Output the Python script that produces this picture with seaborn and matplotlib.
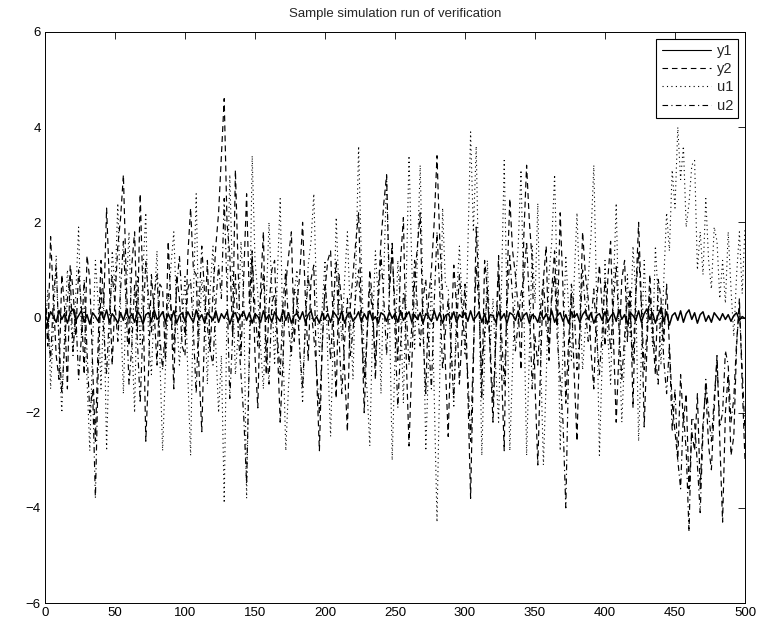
import numpy as np
import pandas as pd
import matplotlib
matplotlib.use("Agg")
import matplotlib.pyplot as plt
import seaborn as sns

title = "Sample simulation run of verification"
series_names = ["y1", "y2", "u1", "u2"]
x_ticks = [0, 50, 100, 150, 200, 250, 300, 350, 400, 450, 500]
y_ticks = [-6, -4, -2, 0, 2, 4, 6]

y1 = [0.05, -0.08, 0.12, 0.02, -0.1, 0.15, -0.04, 0.08, -0.12, 0.1,
      0.18, -0.06, 0.04, 0.14, -0.1, 0.06, -0.14, 0.1, 0.02, -0.08,
      0.12, -0.04, 0.16, -0.1, 0.08, 0.0, -0.12, 0.1, -0.06, 0.14,
      -0.02, 0.08, -0.1, 0.12, 0.04, -0.14, 0.06, 0.1, -0.08, 0.16,
      -0.04, 0.02, 0.12, -0.1, 0.08, -0.06, 0.14, -0.12, 0.04, 0.1,
      -0.08, 0.12, 0.0, -0.1, 0.16, -0.04, 0.06, -0.12, 0.1, 0.02,
      -0.06, 0.14, -0.1, 0.08, -0.02, 0.12, -0.14, 0.06, 0.1, -0.08,
      0.04, 0.12, -0.06, 0.1, -0.12, 0.08, 0.02, -0.1, 0.14, -0.04,
      0.06, -0.1, 0.12, 0.0, -0.08, 0.16, -0.06, 0.1, -0.12, 0.04,
      0.08, -0.04, 0.12, -0.1, 0.06, 0.14, -0.08, 0.02, -0.12, 0.1,
      -0.04, 0.08, -0.1, 0.12, 0.04, -0.06, 0.14, -0.12, 0.06, 0.1,
      -0.08, 0.0, 0.12, -0.1, 0.08, -0.04, 0.14, -0.06, 0.02, -0.12,
      0.1, 0.06, -0.08, 0.12, -0.02, 0.08, -0.1, 0.14, -0.06, 0.04,
      0.12, -0.1, 0.06, -0.04, 0.1, -0.12, 0.08, 0.02, -0.08, 0.14,
      -0.06, 0.1, -0.12, 0.04, 0.08, -0.04, 0.12, -0.1, 0.06, 0.0,
      0.1, -0.08, 0.14, -0.06, 0.02, 0.12, -0.1, 0.08, -0.14, 0.06,
      0.04, -0.1, 0.12, -0.02, 0.08, -0.12, 0.1, 0.06, -0.06, 0.14,
      -0.08, 0.04, 0.1, -0.12, 0.06, 0.02, -0.1, 0.12, -0.04, 0.08,
      -0.06, 0.14, -0.1, 0.04, 0.1, -0.08, 0.06, -0.12, 0.12, 0.0,
      0.08, -0.1, 0.06, 0.14, -0.04, 0.1, -0.12, 0.04, 0.08, -0.06,
      0.12, -0.1, 0.02, 0.1, -0.08, 0.16, -0.04, 0.06, -0.14, 0.1,
      0.04, -0.06, 0.14, -0.1, 0.08, 0.18, -0.04, 0.1, -0.12, 0.06,
      0.2, -0.08, 0.12, -0.16, 0.04, 0.1, -0.06, 0.14, -0.1, 0.08,
      0.16, -0.04, 0.1, -0.12, 0.06, 0.12, -0.08, 0.04, -0.1, 0.1,
      0.02, -0.06, 0.08, -0.04, 0.06, -0.08, 0.04, 0.1, -0.06, 0.02,
      -0.02]

y2 = [0.3, -0.6, 1.7, 0.4, -0.8, -1.3, 0.9, 0.2, -1.5, 1.1, 0.6, -0.4,
      1.0, 0.2, -1.2, 1.3, 0.8, -1.0, -2.6, -0.5, 1.2, 0.3,
      2.3, 0.7, -1.0, 0.4, 1.5, 2.1, 3.0, 0.8, -0.6, 1.1,
      1.8, -0.3, 2.6, 0.5, -2.6, -1.1, 0.9, 0.1, -1.0, 0.7,
      0.6, -0.9, 1.6, 0.2, -1.5, 0.9, 0.4, -0.6, -0.8, 1.3,
      2.3, 1.0, 0.9, -1.1, -2.4, -0.2, 1.2, -0.7, 0.5, 1.5,
      2.2, 3.4, 4.6, 2.0, 1.3, -0.4, 3.1, 1.0, -0.8, 0.9,
      2.6, 0.3, 1.4, -0.8, -1.9, 0.6, 1.8, -1.2, 0.2, 1.0,
      1.2, -0.6, -2.2, -0.9, 0.7, 1.3, 1.8, -0.5, 0.3, 0.9,
      2.0, 0.4, -0.9, 0.8, 1.1, -1.2, -2.8, -0.6, 0.6, 1.2,
      1.4, -0.2, -1.7, 0.9, 0.3, -1.1, -2.4, 0.2, 0.9, 1.6,
      2.2, 0.1, -2.0, -0.4, 1.0, 0.3, -1.3, 0.5, 1.6, 2.4,
      3.0, 0.6, 1.4, 0.2, -0.9, 1.2, 2.1, -0.8, -2.7, -1.0,
      0.8, 1.5, 2.2, -0.3, -1.6, 0.4, 1.0, 2.0, 3.4, 1.6,
      0.5, -1.0, -2.5, -0.4, 1.1, 0.2, -1.4, -0.3, 0.7, -1.5,
      -3.8, -0.9, 1.9, 0.5, -1.7, 1.2, 0.6, -0.8, -2.2, -0.4,
      1.3, -1.0, -2.8, 0.7, 2.5, 1.4, 0.9, 0.2, -1.1, 1.7,
      3.2, 2.0, 1.2, -1.4, -3.1, -1.0, 0.8, 1.5, -0.9, 0.6,
      1.4, -0.2, 2.2, 0.6, -1.8, -0.5, 0.5, -1.2, -2.6, -0.3,
      1.8, 0.9, 0.4, -0.7, -1.5, 0.3, 1.1, 0.2, -0.6, 0.8,
      1.6, -0.4, -2.2, -0.7, 0.8, 1.2, -0.5, 0.6, -1.9, 0.5,
      2.0, 0.3, -2.3, -0.6, 0.9, -0.3, -1.2, 0.8, 0.4, -0.5,
      0.7, -0.6, -1.8, -2.4, -3.0, -1.2, -2.2, -1.6, -3.6, -2.4,
      -2.8, -1.6, -3.6, -2.2, -1.5, -2.7, -3.2, -1.9, -0.8, -2.6,
      -4.3, -2.0, -1.2, -2.9, -2.5, -0.6, 0.4, -1.4, -3.0]

u1 = [-0.5, 0.6, -1.5, -0.2, 1.3, -0.7, -2.0, -0.3, 1.0, 0.2, -0.8, 0.5,
      1.9, -0.4, 0.2, -1.3, -2.8, -0.6, 1.2, 0.3, -1.5, 0.4,
      -2.8, -0.5, 1.4, 0.6, 2.4, 0.2, -1.6, 0.5, 1.8, -0.4,
      -2.0, 0.9, -0.6, 1.0, 2.2, -0.5, -1.2, 0.3, 1.4, -0.8,
      -2.8, -1.1, 0.2, 1.1, 1.8, 0.1, -1.0, -0.2, 0.9, -1.2,
      -2.9, 0.4, 2.6, -0.5, 0.8, 0.2, -1.4, 0.6, 1.5, -0.6,
      -2.0, -0.8, -3.9, 0.2, 3.0, 0.7, -1.2, -0.3, 1.6, 0.4,
      -3.8, -0.4, 3.4, 1.2, 0.5, -0.6, -1.5, 0.3, 2.0, 0.6,
      -1.0, 0.9, 2.5, -0.6, -2.8, -1.4, -0.4, 0.5, 1.0, -0.7,
      -1.8, -0.1, 1.1, 1.6, 2.6, 0.4, -0.8, 0.2, 1.2, -0.9,
      -2.5, -0.3, 2.1, 0.5, -0.5, 0.8, 1.8, 0.1, -1.3, 1.0,
      3.6, 1.2, -0.9, -1.5, -2.7, -0.2, 1.4, 0.4, -1.6, 0.9,
      3.0, 0.2, -3.0, -0.8, 1.2, 0.1, -1.8, 0.7, 3.4, 1.1,
      -0.7, 1.3, 3.2, 0.4, -2.8, -0.9, 0.8, -1.6, -4.3, -1.2,
      2.3, 0.7, 0.6, -0.5, -1.9, 0.4, 1.5, 0.3, -0.8, 1.4,
      3.9, 1.8, 3.6, 0.5, -2.9, -0.8, 1.2, -0.6, 0.4, -1.1,
      -2.2, 0.6, 3.3, 0.2, -2.8, -1.0, 0.7, 1.5, 3.1, 0.3,
      -2.9, -0.7, 1.5, 0.3, 2.4, -0.8, -3.1, -1.3, 0.9, 1.6,
      3.0, 0.5, -2.8, -0.6, 1.3, 0.2, -0.9, 0.8, 2.2, 0.4,
      -1.1, -0.2, 0.8, 1.7, 3.2, 0.4, -2.9, -0.9, 1.2, -0.4,
      -1.4, 0.6, 2.4, -0.3, -2.2, -0.8, 0.9, -0.4, 1.5, 0.5,
      -2.6, -0.7, 1.2, -0.2, 0.3, -0.6, 1.5, 0.4, -1.0, 0.8,
      2.2, 1.4, 3.1, 2.3, 4.0, 2.9, 3.6, 1.9, 2.4, 3.2,
      3.3, 1.0, 1.8, 0.9, 2.5, 1.2, 0.6, 1.9, 1.6, 0.4,
      1.2, 0.3, 1.8, 0.6, -0.4, 0.9, 1.8, 0.5, 1.9]

u2 = [0.5, -0.2, -0.9, 0.4, 1.1, -0.5, -1.6, -0.6, 0.4, 0.9, -0.7, 0.1,
      -1.3, -0.4, 0.8, -0.7, -2.0, -1.5, -3.8, -1.1, 0.6, -0.3,
      -1.2, 0.1, 0.9, 0.3, -0.5, 0.6, 1.6, 0.2, -1.4, -0.6,
      0.7, -0.5, -1.8, -0.2, 1.2, 0.4, -0.3, 0.5, 0.9, -0.4,
      -1.1, -0.2, 0.5, 0.2, -0.7, 0.6, 1.3, 0.3, -0.4, 0.6,
      0.8, -0.3, -1.6, 0.2, 1.5, 0.5, -0.2, -0.7, -1.0, 0.3,
      1.1, 0.4, 2.5, 0.6, -1.7, -0.4, 0.9, -0.3, -1.2, -2.1,
      -3.5, -0.8, 1.3, 0.2, -0.6, 0.4, 0.9, -0.5, -1.4, 0.3,
      0.5, -0.4, -1.2, 0.3, 1.0, -0.2, -0.8, 0.6, 0.4, -0.7,
      -1.5, -0.1, 0.9, 0.2, -0.4, -1.1, -2.0, -0.6, 0.7, 0.1,
      -0.9, 0.3, 1.2, -0.4, -1.6, -0.5, 0.4, -0.8, -0.3, 0.5,
      1.0, -0.2, -1.3, -0.4, 0.6, 0.1, -0.9, 0.3, 1.3, 0.4,
      -0.8, 0.5, 1.6, -0.3, -1.9, -0.6, 0.5, 0.2, -1.0, -0.2,
      1.2, 0.2, -0.6, 0.4, 0.8, -0.5, -1.5, 0.3, 1.8, 0.5,
      -1.1, -0.3, 0.4, -0.6, -1.7, -0.2, 0.9, 0.1, -0.5, -1.2,
      -2.6, -0.7, 1.1, 0.2, -1.2, -0.3, 0.6, -0.6, -1.8, -0.5,
      0.9, -0.3, -1.4, 0.2, 1.3, 0.4, -0.7, -0.1, 0.5, 0.8,
      1.6, 0.3, -1.5, -0.4, -1.0, 0.2, 0.8, -0.2, -0.6, 0.4,
      0.9, -0.5, -1.3, -2.2, -4.0, -1.0, 0.7, 0.2, -1.1, -0.3,
      1.0, 0.2, -0.5, -0.1, 0.6, -0.4, -1.2, -0.3, 0.8, 0.1,
      -0.7, 0.3, 1.1, -0.2, -1.3, -0.4, 0.4, 0.1, -0.9, 0.5,
      1.4, 0.2, -1.1, -0.3, 0.5, -0.2, -0.8, -1.4, 0.3, -0.9,
      -1.6, -0.6, -2.4, -1.5, -3.0, -3.6, -2.0, -2.8, -4.5, -2.1,
      -2.2, -3.1, -4.1, -2.4, -1.3, -2.0, -2.6, -1.7, -0.9, -2.3,
      -2.0, -0.7, -1.0, -2.2, -1.7, -0.5, 0.2, -1.1, -2.4]

frames = []
for name, vals in zip(series_names, [y1, y2, u1, u2]):
    n = len(vals)
    frames.append(pd.DataFrame({"t": np.linspace(0, 500, n), "value": vals, "series": name}))
df = pd.concat(frames, ignore_index=True)

sns.set_theme(style="white")
plt.rcParams["font.family"] = ["Liberation Sans", "DejaVu Sans"]

fig = plt.figure(figsize=(7.57, 6.19), dpi=100)
ax = fig.add_axes([45 / 757, 1 - 603 / 619, 700 / 757, 571 / 619])

sns.lineplot(data=df, x="t", y="value", hue="series", style="series",
             palette=["black"] * 4,
             dashes={"y1": "", "y2": (5, 3.5), "u1": (1, 3), "u2": (5, 3, 1, 3)},
             linewidth=0.8, ax=ax, sort=False, estimator=None)

widths = {"y1": 1.1, "y2": 0.85, "u1": 0.8, "u2": 0.85}
for line, name in zip(ax.lines[:4], series_names):
    line.set_linewidth(widths[name])

ax.set_xlim(0, 500)
ax.set_ylim(-6, 6)
ax.set_xticks(x_ticks)
ax.set_yticks(y_ticks)
ax.set_xlabel("")
ax.set_ylabel("")
ax.tick_params(direction="in", length=5, width=0.6, top=True, right=True,
               labelsize=9.5, colors="black", pad=3)
for s in ax.spines.values():
    s.set_color("black")
    s.set_linewidth(0.7)
ax.set_title(title, fontsize=9.5, pad=11)

handles, labels = ax.get_legend_handles_labels()
leg = ax.legend(handles, labels, loc="upper right", fontsize=10.5, frameon=True,
                fancybox=False, edgecolor="black", framealpha=1,
                borderaxespad=0.45, handlelength=3.4, labelspacing=0.3,
                borderpad=0.35, handletextpad=0.4)
leg.get_frame().set_linewidth(0.8)
for h in leg.get_lines():
    h.set_linewidth(0.8)

fig.savefig("out.png", dpi=100)
